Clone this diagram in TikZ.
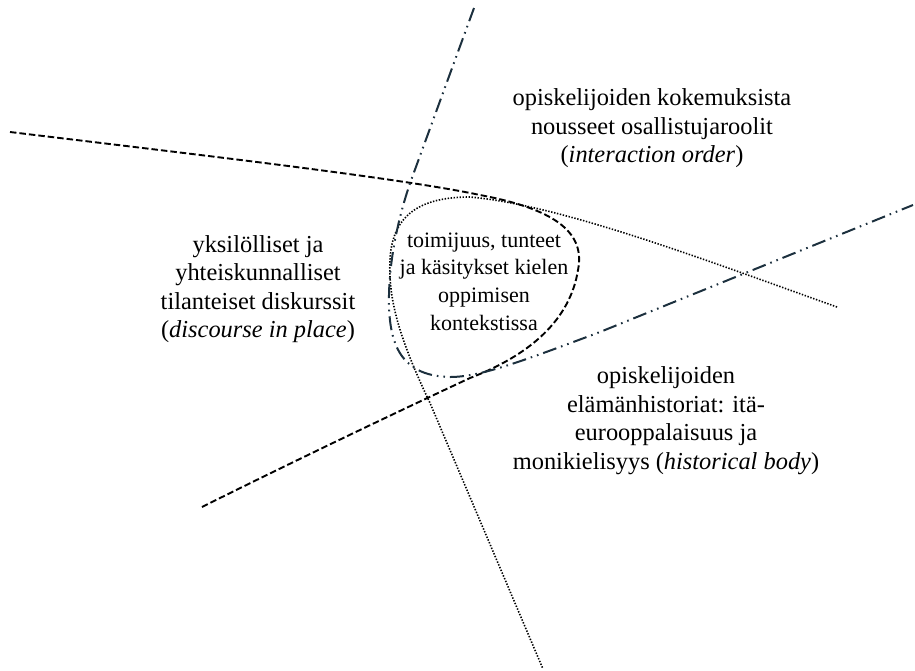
\documentclass[tikz,border=0pt]{standalone}
\usepackage{fontspec}
\setmainfont{Liberation Serif}
\definecolor{slate}{RGB}{28,48,62}

\begin{document}
\begin{tikzpicture}[x=1pt, y=-1pt,
    area/.style={align=center, font=\fontsize{24.4}{28.5}\selectfont},
    core/.style={align=center, font=\fontsize{22}{27.7}\selectfont},
    dashline/.style={line width=1.9pt, dash pattern=on 6.5pt off 3pt},
    dotline/.style={line width=1.6pt, dash pattern=on 1.4pt off 1.6pt},
    dashdotline/.style={line width=2pt, slate, dash pattern=on 14pt off 5pt on 1.6pt off 5pt on 1.6pt off 5pt}
]
\useasboundingbox (0,0) rectangle (915,670);

\draw[dashline] (10,132) .. controls (200,155) and (400,178) .. (480,195)
    .. controls (560,210) and (585,235) .. (578,270)
    .. controls (570,320) and (530,355) .. (470,378)
    .. controls (380,420) and (280,468) .. (200,508);
\draw[dotline] (837,307) .. controls (700,258) and (560,205) .. (470,197)
    .. controls (420,197) and (392,215) .. (390,260)
    .. controls (388,300) and (400,340) .. (430,403) -- (543,669);
\draw[dashdotline] (474,8) -- (413,175)
    .. controls (400,210) and (388,260) .. (389,305)
    .. controls (390,350) and (405,376) .. (450,377)
    .. controls (480,377) and (520,362) .. (600,332) -- (913,205);

\node[area] (order) at (652,128.5) {opiskelijoiden kokemuksista\\nousseet osallistujaroolit\\(\textit{interaction order})};
\node[area] (discourse) at (258,289) {yksilölliset ja\\yhteiskunnalliset\\tilanteiset diskurssit\\(\textit{discourse in place})};
\node[core] (action) at (484,281.5) {toimijuus, tunteet\\ja käsitykset kielen\\oppimisen\\kontekstissa};
\node[area] (body) at (666,420.5) {opiskelijoiden\\elämänhistoriat: itä-\\eurooppalaisuus ja\\monikielisyys (\textit{historical body})};
\end{tikzpicture}
\end{document}
